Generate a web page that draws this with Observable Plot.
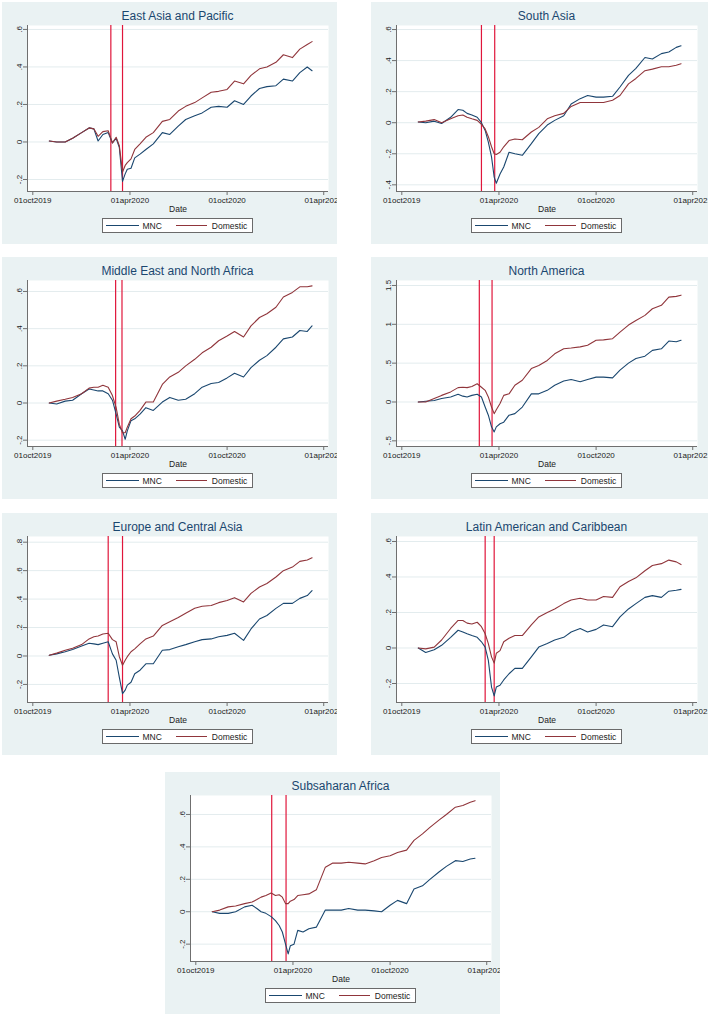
<!DOCTYPE html>
<html><head><meta charset="utf-8">
<script src="https://cdn.jsdelivr.net/npm/d3@7"></script>
<script src="https://cdn.jsdelivr.net/npm/@observablehq/plot@0.6"></script>
<style>
body{margin:0;background:#fff;width:708px;height:1018px;position:relative;overflow:hidden;font-family:"Liberation Sans",Arial,sans-serif;}
.panel{position:absolute;background:#eaf2f3;overflow:hidden;height:242px;}
.panel svg{position:absolute;left:0;top:0;}
.title{position:absolute;top:7px;line-height:14px;text-align:center;font-size:12px;color:#1a476f;white-space:nowrap;}
.legend{position:absolute;top:216px;width:151px;height:15px;background:#fff;border:1px solid #6a6a6a;box-sizing:border-box;display:flex;align-items:center;font-size:8.5px;color:#222;white-space:nowrap;}
.sw{display:inline-block;height:0;border-top:1.2px solid;}
</style></head><body>
<script>
// shared observation dates
const dates = ["2019-11-01","2019-11-15","2019-12-01","2019-12-15","2020-01-01","2020-01-15","2020-01-24","2020-02-01","2020-02-10","2020-02-20","2020-02-28","2020-03-06","2020-03-12","2020-03-18","2020-03-23","2020-03-27","2020-04-03","2020-04-10","2020-04-20","2020-05-01","2020-05-15","2020-06-01","2020-06-15","2020-07-01","2020-07-15","2020-08-01","2020-08-15","2020-09-01","2020-09-15","2020-10-01","2020-10-15","2020-11-01","2020-11-15","2020-12-01","2020-12-15","2021-01-01","2021-01-15","2021-02-01","2021-02-15","2021-03-01","2021-03-10"];
const xTickDates = ["2019-10-01","2020-04-01","2020-10-01","2021-04-01"];
const seriesNames = ["MNC","Domestic"];

// East Asia and Pacific
const eapMNC = [0.005,0,0,0.02,0.05,0.075,0.07,0.005,0.04,0.05,-0.005,0.02,-0.03,-0.21,-0.17,-0.145,-0.14,-0.085,-0.065,-0.04,-0.01,0.05,0.04,0.085,0.12,0.14,0.155,0.185,0.19,0.185,0.22,0.2,0.245,0.285,0.295,0.3,0.335,0.325,0.37,0.4,0.38];
const eapDom = [0.005,0,0,0.02,0.05,0.075,0.07,0.03,0.055,0.06,-0.005,0.025,-0.02,-0.16,-0.125,-0.11,-0.09,-0.04,-0.01,0.025,0.05,0.11,0.12,0.165,0.19,0.21,0.235,0.265,0.27,0.28,0.325,0.31,0.355,0.39,0.4,0.425,0.465,0.45,0.495,0.52,0.535];
// South Asia
const saMNC = [0.005,0,0.01,-0.005,0.035,0.085,0.08,0.06,0.05,0.035,0,-0.05,-0.125,-0.22,-0.35,-0.39,-0.33,-0.285,-0.19,-0.2,-0.21,-0.135,-0.07,-0.015,0.015,0.045,0.12,0.155,0.175,0.165,0.165,0.17,0.23,0.305,0.35,0.42,0.41,0.445,0.455,0.485,0.495];
const saDom = [0.005,0.01,0.02,0,0.025,0.045,0.05,0.035,0.025,0.015,-0.01,-0.04,-0.09,-0.155,-0.2,-0.205,-0.19,-0.155,-0.115,-0.105,-0.11,-0.06,-0.03,0.025,0.045,0.06,0.105,0.13,0.13,0.13,0.13,0.145,0.175,0.25,0.285,0.335,0.345,0.36,0.36,0.37,0.38];
// Middle East and North Africa
const menaMNC = [0,-0.005,0.01,0.015,0.05,0.075,0.07,0.065,0.065,0.05,0.015,-0.06,-0.13,-0.15,-0.195,-0.15,-0.095,-0.085,-0.06,-0.025,-0.04,0.005,0.03,0.015,0.02,0.05,0.085,0.105,0.11,0.135,0.16,0.14,0.19,0.23,0.255,0.3,0.345,0.355,0.39,0.385,0.415];
const menaDom = [0,0.01,0.02,0.03,0.05,0.08,0.085,0.085,0.095,0.085,0.04,-0.025,-0.115,-0.16,-0.16,-0.13,-0.085,-0.07,-0.04,0.005,0.005,0.1,0.14,0.165,0.2,0.235,0.27,0.3,0.335,0.36,0.385,0.355,0.415,0.46,0.48,0.515,0.57,0.595,0.625,0.625,0.63];
// North America
const naMNC = [0,0.01,0.02,0.045,0.065,0.1,0.075,0.065,0.085,0.1,0.065,-0.065,-0.17,-0.32,-0.385,-0.32,-0.28,-0.26,-0.17,-0.15,-0.065,0.105,0.105,0.15,0.215,0.27,0.29,0.26,0.29,0.32,0.32,0.31,0.41,0.5,0.56,0.59,0.665,0.685,0.785,0.775,0.795];
const naDom = [0,0,0.045,0.085,0.13,0.185,0.19,0.185,0.2,0.235,0.19,0.15,0.065,-0.065,-0.15,-0.1,-0.02,0.085,0.105,0.215,0.28,0.43,0.47,0.535,0.62,0.685,0.695,0.71,0.73,0.795,0.8,0.815,0.9,0.99,1.05,1.115,1.2,1.245,1.35,1.36,1.375];
// Europe and Central Asia
const ecaMNC = [0.005,0.015,0.03,0.045,0.07,0.09,0.085,0.08,0.09,0.1,0.015,-0.03,-0.15,-0.265,-0.24,-0.205,-0.185,-0.125,-0.1,-0.055,-0.055,0.04,0.045,0.065,0.08,0.1,0.115,0.12,0.135,0.145,0.16,0.11,0.19,0.26,0.285,0.335,0.37,0.37,0.405,0.425,0.46];
const ecaDom = [0.005,0.02,0.04,0.055,0.08,0.12,0.135,0.14,0.155,0.16,0.115,0.1,-0.005,-0.065,-0.03,-0.005,0.03,0.05,0.085,0.12,0.14,0.215,0.24,0.27,0.3,0.335,0.35,0.355,0.375,0.39,0.41,0.38,0.44,0.485,0.51,0.555,0.6,0.625,0.665,0.675,0.69];
// Latin American and Caribbean
const lacMNC = [0,-0.025,-0.01,0.015,0.06,0.1,0.09,0.08,0.07,0.06,0.035,0.005,-0.07,-0.22,-0.27,-0.22,-0.21,-0.18,-0.145,-0.115,-0.115,-0.05,0.005,0.025,0.045,0.06,0.09,0.11,0.09,0.105,0.13,0.12,0.175,0.22,0.25,0.285,0.295,0.285,0.32,0.325,0.33];
const lacDom = [0,-0.005,0.005,0.045,0.11,0.155,0.155,0.14,0.135,0.145,0.12,0.08,0.025,-0.05,-0.085,-0.03,-0.015,0.035,0.055,0.07,0.07,0.13,0.175,0.2,0.22,0.25,0.27,0.28,0.27,0.27,0.29,0.285,0.345,0.375,0.395,0.435,0.465,0.475,0.495,0.485,0.47];
// Subsaharan Africa
const ssaMNC = [0,-0.01,-0.01,0,0.03,0.04,0.02,0,-0.01,-0.03,-0.055,-0.085,-0.125,-0.2,-0.26,-0.21,-0.2,-0.115,-0.125,-0.105,-0.095,0.01,0.01,0.01,0.02,0.01,0.01,0.005,0,0.04,0.07,0.05,0.14,0.16,0.2,0.245,0.28,0.315,0.31,0.325,0.33];
const ssaDom = [0,0.01,0.03,0.035,0.05,0.06,0.075,0.09,0.1,0.115,0.1,0.105,0.09,0.05,0.05,0.065,0.075,0.1,0.105,0.11,0.135,0.275,0.3,0.3,0.305,0.3,0.295,0.315,0.335,0.345,0.365,0.38,0.44,0.48,0.52,0.565,0.6,0.645,0.655,0.675,0.685];

const regionTitles = ["East Asia and Pacific","South Asia","Middle East and North Africa","North America","Europe and Central Asia","Latin American and Caribbean","Subsaharan Africa"];
const regionMNC = [eapMNC, saMNC, menaMNC, naMNC, ecaMNC, lacMNC, ssaMNC];
const regionDom = [eapDom, saDom, menaDom, naDom, ecaDom, lacDom, ssaDom];
const regionVLines = [["2020-02-25","2020-03-18"],["2020-02-28","2020-03-24"],["2020-03-05","2020-03-17"],["2020-02-24","2020-03-19"],["2020-02-20","2020-03-18"],["2020-03-06","2020-03-23"],["2020-02-21","2020-03-19"]];
const regionYTicks = [[-0.2,0,0.2,0.4,0.6],[-0.4,-0.2,0,0.2,0.4,0.6],[-0.2,0,0.2,0.4,0.6],[-0.5,0,0.5,1,1.5],[-0.2,0,0.2,0.4,0.6,0.8],[-0.2,0,0.2,0.4,0.6],[-0.2,0,0.2,0.4,0.6]];
const regionYDomain = [[-0.264,0.621],[-0.443,0.626],[-0.234,0.659],[-0.573,1.564],[-0.327,0.84],[-0.307,0.628],[-0.307,0.717]];

// layout (page placement of panels)
const panelLeft = [2,371,2,371,2,371,165];
const panelTop = [2,2,257,257,513,513,772];
const panelWidth = [335,337,335,337,335,337,335];

const parse = d3.utcParse("%Y-%m-%d");
const xDomain = [parse("2019-09-21"), parse("2021-04-10")];
const xTicks = xTickDates.map(parse);
const fmtDate = d => d3.utcFormat("%d%b%Y")(d).toLowerCase();
const fmtNum = v => String(Math.round(v*10)/10).replace(/^(-?)0\./, "$1.");
const colMNC = "#1a476f", colDom = "#90353b", colV = "#e0163b";

const ML = 25, MT = 23, MB = 53, PW = 301, H = 242;

for (let r = 0; r < regionTitles.length; r++) {
  const W = panelWidth[r];
  const mncRows = dates.map((d,i) => ({date: parse(d), value: regionMNC[r][i]}));
  const domRows = dates.map((d,i) => ({date: parse(d), value: regionDom[r][i]}));
  const yd = regionYDomain[r];
  const svg = Plot.plot({
    width: W, height: H,
    marginLeft: ML, marginRight: W - ML - PW, marginTop: MT, marginBottom: MB,
    style: {background: "transparent", fontFamily: "'Liberation Sans', Arial, sans-serif", fontSize: "8px", color: "#222"},
    x: {type: "utc", domain: xDomain, label: null},
    y: {domain: yd, label: null},
    marks: [
      Plot.frame({fill: "white", stroke: null}),
      Plot.ruleY(regionYTicks[r], {stroke: "#e3ecee", strokeWidth: 1}),
      Plot.ruleX(regionVLines[r].map(parse), {stroke: colV, strokeWidth: 1.2}),
      Plot.line(mncRows, {x: "date", y: "value", stroke: colMNC, strokeWidth: 1.1}),
      Plot.line(domRows, {x: "date", y: "value", stroke: colDom, strokeWidth: 1.1}),
      Plot.ruleX([xDomain[0]], {stroke: "#6f6f6f"}),
      Plot.ruleY([yd[0]], {stroke: "#6f6f6f"}),
      Plot.axisX({ticks: xTicks, tickFormat: fmtDate, tickSize: 4, tickPadding: 2, stroke: "#6f6f6f", fill: "#222", label: null}),
      Plot.axisY({ticks: regionYTicks[r], tickFormat: fmtNum, tickSize: 4, tickRotate: -90, tickPadding: 2, stroke: "#6f6f6f", fill: "#222", label: null}),
      Plot.text(["Date"], {text: d => d, frameAnchor: "bottom", dy: 20, fontSize: 8.5, fill: "#222"})
    ]
  });
  const div = document.createElement("div");
  div.className = "panel";
  div.style.left = panelLeft[r] + "px";
  div.style.top = panelTop[r] + "px";
  div.style.width = W + "px";
  div.appendChild(svg);
  const t = document.createElement("div");
  t.className = "title";
  t.style.left = ML + "px";
  t.style.width = PW + "px";
  t.textContent = regionTitles[r];
  div.appendChild(t);
  const lg = document.createElement("div");
  lg.className = "legend";
  lg.style.left = (ML + PW/2 - 75.5) + "px";
  lg.innerHTML = `<span class="sw" style="width:33px;margin-left:2.5px;border-color:${colMNC}"></span><span style="margin-left:4px">${seriesNames[0]}</span><span class="sw" style="width:31px;margin-left:14px;border-color:${colDom}"></span><span style="margin-left:5px">${seriesNames[1]}</span>`;
  div.appendChild(lg);
  document.body.appendChild(div);
}
</script>
</body></html>
